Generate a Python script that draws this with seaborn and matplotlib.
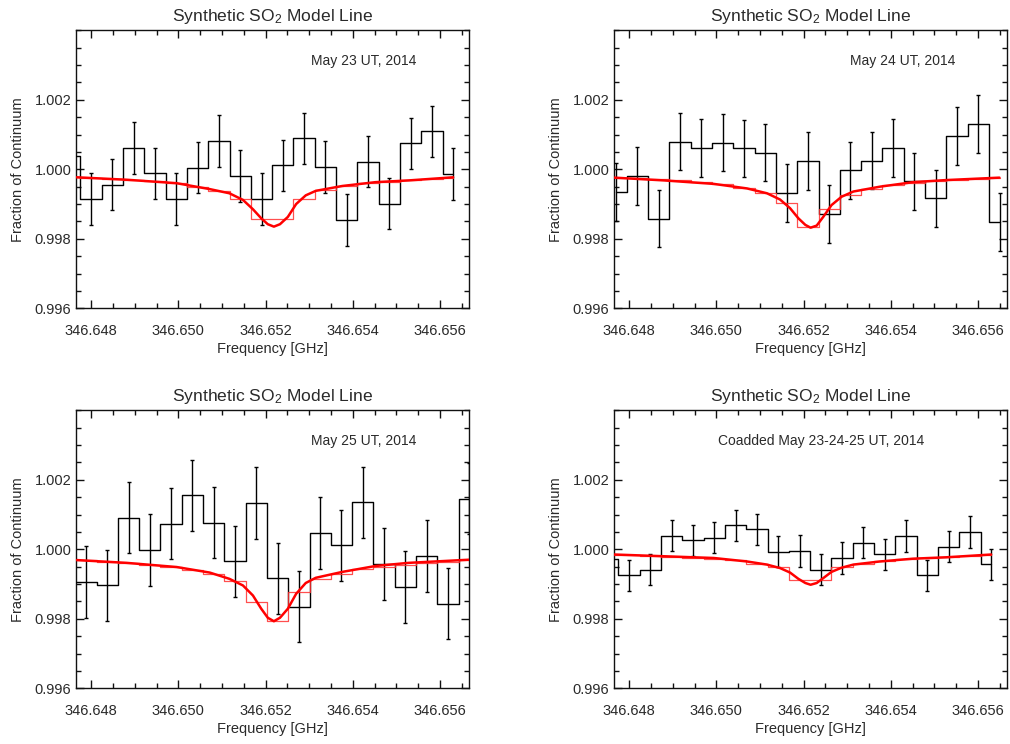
import matplotlib
matplotlib.use("Agg")
import matplotlib.pyplot as plt
from matplotlib.ticker import FormatStrFormatter, AutoMinorLocator
import seaborn as sns
import pandas as pd

# ---------------------------------------------------------------- data
# Channel centre frequencies [GHz]
chan_a = [346.647512, 346.648000, 346.648488, 346.648976, 346.649465, 346.649953,
          346.650441, 346.650929, 346.651418, 346.651906, 346.652394, 346.652883,
          346.653371, 346.653859, 346.654347, 346.654836, 346.655324, 346.655812,
          346.656300]
chan_b = [346.647703, 346.648191, 346.648680, 346.649168, 346.649656, 346.650145,
          346.650633, 346.651121, 346.651609, 346.652098, 346.652586, 346.653074,
          346.653563, 346.654051, 346.654539, 346.655027, 346.655516, 346.656004,
          346.656492]
chan_c = [346.647392, 346.647880, 346.648368, 346.648857, 346.649345, 346.649833,
          346.650321, 346.650810, 346.651298, 346.651786, 346.652275, 346.652763,
          346.653251, 346.653739, 346.654228, 346.654716, 346.655204, 346.655693,
          346.656181, 346.656669]

# Observed spectra (fraction of continuum) and 1-sigma errors
obs_may23 = [1.00037, 0.99914, 0.99956, 1.00061, 0.99988, 0.99915, 1.00005, 1.00081,
             0.99981, 0.99914, 1.00011, 1.00089, 1.00007, 0.99854, 1.00022, 0.99901,
             1.00075, 1.00109, 0.99987]
err_may23 = [0.00074, 0.00074, 0.00074, 0.00074, 0.00074, 0.00074, 0.00074, 0.00074,
             0.00074, 0.00074, 0.00074, 0.00074, 0.00074, 0.00074, 0.00074, 0.00074,
             0.00074, 0.00074, 0.00074]
obs_may24 = [0.99934, 0.99980, 0.99858, 1.00080, 1.00061, 1.00077, 1.00060, 1.00048,
             0.99931, 1.00024, 0.99871, 0.99997, 1.00025, 1.00062, 0.99965, 0.99916,
             1.00096, 1.00131, 0.99849]
err_may24 = [0.00083, 0.00083, 0.00083, 0.00083, 0.00083, 0.00083, 0.00083, 0.00083,
             0.00083, 0.00083, 0.00083, 0.00083, 0.00083, 0.00083, 0.00083, 0.00083,
             0.00083, 0.00083, 0.00083]
obs_may25 = [0.99906, 0.99906, 0.99896, 1.00091, 0.99998, 1.00074, 1.00155, 1.00077,
             0.99965, 1.00134, 0.99916, 0.99835, 1.00047, 1.00011, 1.00135, 0.99957,
             0.99892, 0.99980, 0.99844, 1.00146]
err_may25 = [0.00103, 0.00103, 0.00103, 0.00103, 0.00103, 0.00103, 0.00103, 0.00103,
             0.00103, 0.00103, 0.00103, 0.00103, 0.00103, 0.00103, 0.00103, 0.00103,
             0.00103, 0.00103, 0.00103, 0.00103]
obs_coadd = [0.99972, 0.99925, 0.99941, 1.00039, 1.00026, 1.00033, 1.00069, 1.00057,
             0.99993, 0.99995, 0.99941, 0.99975, 1.00019, 0.99986, 1.00038, 0.99925,
             1.00008, 1.00050, 0.99957]
err_coadd = [0.00045, 0.00045, 0.00045, 0.00045, 0.00045, 0.00045, 0.00045, 0.00045,
             0.00045, 0.00045, 0.00045, 0.00045, 0.00045, 0.00045, 0.00045, 0.00045,
             0.00045, 0.00045, 0.00045]

# Synthetic SO2 model averaged over each channel
mod_bin_may23 = [0.99977, 0.99975, 0.99972, 0.99969, 0.99965, 0.99960, 0.99950, 0.99938,
                 0.99914, 0.99856, 0.99856, 0.99915, 0.99940, 0.99953, 0.99960, 0.99964,
                 0.99968, 0.99972, 0.99976]
mod_bin_may24 = [0.99976, 0.99974, 0.99971, 0.99968, 0.99963, 0.99958, 0.99946, 0.99933,
                 0.99902, 0.99833, 0.99885, 0.99925, 0.99943, 0.99954, 0.99960, 0.99965,
                 0.99969, 0.99972, 0.99975]
mod_bin_may25 = [0.99970, 0.99968, 0.99964, 0.99960, 0.99955, 0.99949, 0.99941, 0.99928,
                 0.99908, 0.99849, 0.99794, 0.99878, 0.99915, 0.99930, 0.99942, 0.99950,
                 0.99956, 0.99960, 0.99964, 0.99968]
mod_bin_coadd = [0.99985, 0.99983, 0.99981, 0.99979, 0.99976, 0.99973, 0.99968, 0.99957,
                 0.99949, 0.99912, 0.99912, 0.99949, 0.99958, 0.99966, 0.99971, 0.99974,
                 0.99977, 0.99980, 0.99983]

# Synthetic SO2 model at full resolution
fine_a = [346.64767, 346.64881, 346.64996, 346.65072, 346.65117, 346.65148, 346.65171,
          346.65190, 346.65205, 346.65219, 346.65233, 346.65251, 346.65270, 346.65292,
          346.65315, 346.65376, 346.65452, 346.65528, 346.65630]
fine_b = [346.64766, 346.64880, 346.64994, 346.65070, 346.65116, 346.65146, 346.65169,
          346.65188, 346.65204, 346.65216, 346.65230, 346.65245, 346.65264, 346.65287,
          346.65314, 346.65375, 346.65451, 346.65527, 346.65649]
fine_c = [346.64767, 346.64881, 346.64996, 346.65072, 346.65117, 346.65148, 346.65171,
          346.65190, 346.65205, 346.65219, 346.65233, 346.65251, 346.65270, 346.65292,
          346.65315, 346.65376, 346.65452, 346.65528, 346.65666]
fine_d = [346.64766, 346.64880, 346.64994, 346.65070, 346.65116, 346.65146, 346.65169,
          346.65188, 346.65204, 346.65216, 346.65230, 346.65245, 346.65264, 346.65287,
          346.65314, 346.65375, 346.65451, 346.65527, 346.65630]
mod_may23 = [0.99977, 0.99970, 0.99960, 0.99943, 0.99931, 0.99912, 0.99885, 0.99859,
             0.99842, 0.99835, 0.99842, 0.99863, 0.99900, 0.99925, 0.99938, 0.99952,
             0.99963, 0.99968, 0.99977]
mod_may24 = [0.99976, 0.99968, 0.99958, 0.99945, 0.99931, 0.99913, 0.99888, 0.99859,
             0.99840, 0.99832, 0.99838, 0.99863, 0.99897, 0.99921, 0.99936, 0.99950,
             0.99963, 0.99969, 0.99976]
mod_may25 = [0.99969, 0.99961, 0.99949, 0.99933, 0.99915, 0.99896, 0.99867, 0.99829,
             0.99803, 0.99793, 0.99803, 0.99829, 0.99872, 0.99903, 0.99918, 0.99935,
             0.99952, 0.99961, 0.99970]
mod_coadd = [0.99985, 0.99980, 0.99975, 0.99965, 0.99956, 0.99946, 0.99933, 0.99915,
             0.99903, 0.99898, 0.99903, 0.99917, 0.99935, 0.99947, 0.99956, 0.99965,
             0.99973, 0.99977, 0.99985]

labels = ["May 23 UT, 2014", "May 24 UT, 2014", "May 25 UT, 2014",
          "Coadded May 23-24-25 UT, 2014"]
x_ticks = [346.648, 346.650, 346.652, 346.654, 346.656]
y_ticks = [0.996, 0.998, 1.000, 1.002]

panels = [
    (chan_a, obs_may23, err_may23, mod_bin_may23, fine_a, mod_may23),
    (chan_b, obs_may24, err_may24, mod_bin_may24, fine_b, mod_may24),
    (chan_c, obs_may25, err_may25, mod_bin_may25, fine_c, mod_may25),
    (chan_a, obs_coadd, err_coadd, mod_bin_coadd, fine_d, mod_coadd),
]

# ---------------------------------------------------------------- style
sns.set_theme(style="ticks")
plt.rcParams["font.family"] = ["Liberation Sans", "DejaVu Sans"]
plt.rcParams["mathtext.fontset"] = "custom"
plt.rcParams["mathtext.rm"] = "Liberation Sans"
plt.rcParams["mathtext.it"] = "Liberation Sans:italic"
plt.rcParams["axes.linewidth"] = 1.0
plt.rcParams["axes.edgecolor"] = "#111111"

W, H = 1010, 744
fig = plt.figure(figsize=(W / 100, H / 100), dpi=100, facecolor="white")

ax_w, ax_h = 393, 278
origins = [(76.3, 30.3), (614.3, 30.3), (76.3, 410.3), (614.3, 410.3)]
label_pos = [0.73, 0.733, 0.73, 0.525]
text_col = "#2a2a2a"

for i, (chan, obs, err, mbin, fx, fy) in enumerate(panels):
    x0, y0 = origins[i]
    ax = fig.add_axes([x0 / W, 1 - (y0 + ax_h) / H, ax_w / W, ax_h / H])

    df_obs = pd.DataFrame({"freq": chan, "flux": obs})
    df_bin = pd.DataFrame({"freq": chan, "flux": mbin})
    df_mod = pd.DataFrame({"freq": fx, "flux": fy})

    sns.lineplot(data=df_obs, x="freq", y="flux", ax=ax, estimator=None, sort=False,
                 drawstyle="steps-mid", color="black", linewidth=1.0, zorder=3)
    ax.errorbar(chan, obs, yerr=err, fmt="none", ecolor="black", elinewidth=1.0,
                capsize=1.6, capthick=1.0, zorder=3)
    sns.lineplot(data=df_bin, x="freq", y="flux", ax=ax, estimator=None, sort=False,
                 drawstyle="steps-mid", color="#ff3030", linewidth=0.9, alpha=0.85,
                 zorder=4)
    sns.lineplot(data=df_mod, x="freq", y="flux", ax=ax, estimator=None, sort=False,
                 color="#ff0000", linewidth=1.8, zorder=5)

    ax.set_xlim(346.64766, 346.65667)
    ax.set_ylim(0.996, 1.004)
    ax.set_xticks(x_ticks)
    ax.set_yticks(y_ticks)
    ax.xaxis.set_major_formatter(FormatStrFormatter("%.3f"))
    ax.yaxis.set_major_formatter(FormatStrFormatter("%.3f"))
    ax.xaxis.set_minor_locator(AutoMinorLocator(4))
    ax.yaxis.set_minor_locator(AutoMinorLocator(4))
    ax.tick_params(which="both", direction="in", top=True, right=True,
                   colors="#111111", labelcolor=text_col, labelsize=10.5)
    ax.tick_params(which="major", length=6, width=1.0)
    ax.tick_params(which="minor", length=3.5, width=1.0)
    ax.tick_params(axis="x", which="major", pad=11)
    ax.tick_params(axis="y", which="major", pad=3.5)
    for side in ax.spines.values():
        side.set_visible(True)
        side.set_linewidth(1.0)

    ax.set_xlabel("Frequency [GHz]", fontsize=10.5, color=text_col, labelpad=3.5)
    ax.set_ylabel("Fraction of Continuum", fontsize=10.5, color=text_col, labelpad=7)
    ax.set_title("Synthetic SO$_2$ Model Line", fontsize=12.6, color=text_col, pad=7)
    ax.text(label_pos[i], 0.891, labels[i], transform=ax.transAxes, ha="center",
            va="center", fontsize=10, color=text_col)

fig.savefig("out.png", dpi=100, facecolor="white")
